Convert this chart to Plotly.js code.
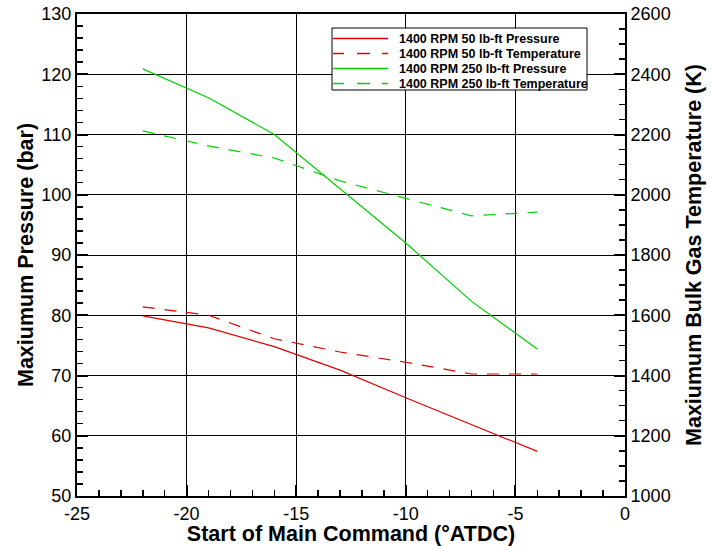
<!DOCTYPE html>
<html>
<head>
<meta charset="utf-8">
<script src="https://cdn.plot.ly/plotly-3.0.1.min.js"></script>
<style>html,body{margin:0;padding:0;background:#fff;}#chart{width:712px;height:546px;}</style>
</head>
<body>
<div id="chart"></div>
<script>
// Start of main command (deg ATDC)
const soi = [-22, -19, -16, -13, -10, -7, -4];
// 1400 RPM 50 lb-ft
const pressure50 = [79.9, 77.9, 74.8, 70.9, 66.3, 61.8, 57.4];
const temperature50 = [1628, 1600, 1522, 1478, 1444, 1405, 1405];
// 1400 RPM 250 lb-ft
const pressure250 = [120.9, 116.1, 110.0, 101.0, 92.0, 82.3, 74.4];
const temperature250 = [2212, 2162, 2122, 2046, 1988, 1930, 1942];

const seriesNames = [
  "1400 RPM 50 lb-ft Pressure",
  "1400 RPM 50 lb-ft Temperature",
  "1400 RPM 250 lb-ft Pressure",
  "1400 RPM 250 lb-ft Temperature"
];

// tick labels (plain hyphen minus as in the original)
const xTickVals = [-25, -20, -15, -10, -5, 0];
const xTickText = ["-25", "-20", "-15", "-10", "-5", "0"];

const RED = "#e00000", GREEN = "#00d000";
const FONT = "Liberation Sans, Arial, sans-serif";
const DASH = "12px,10px";

const styles = [
  {color: RED, dashed: false, axis: "y"},
  {color: RED, dashed: true, axis: "y2"},
  {color: GREEN, dashed: false, axis: "y"},
  {color: GREEN, dashed: true, axis: "y2"}
];
const seriesY = [pressure50, temperature50, pressure250, temperature250];

const traces = seriesY.map((ys, i) => ({
  x: soi, y: ys, name: seriesNames[i], mode: "lines", yaxis: styles[i].axis,
  showlegend: false, hoverinfo: "skip",
  line: {color: styles[i].color, width: 1.2, dash: styles[i].dashed ? DASH : "solid"}
}));

// plot-area geometry used to place the hand-built legend
const W = 712, H = 546, ML = 77, MR = 87, MT = 14, MB = 50;
const PW = W - ML - MR, PH = H - MT - MB;
const px = v => (v - ML) / PW;
const py = v => (H - MB - v) / PH;

const legBox = {x0: 332, x1: 587, y0: 28, y1: 90};
const legRowY = [38.5, 53.5, 68.5, 83.5];
const legSolid = [[333, 388]];
const legDashed = [[333, 344], [357, 370], [382, 388]];
const shapes = [{
  type: "rect", xref: "paper", yref: "paper", layer: "above",
  x0: px(legBox.x0), x1: px(legBox.x1), y0: py(legBox.y1), y1: py(legBox.y0),
  fillcolor: "#fff", line: {color: "#000", width: 1}
}];
const annotations = [];
seriesNames.forEach((nm, i) => {
  (styles[i].dashed ? legDashed : legSolid).forEach(seg => {
    shapes.push({
      type: "line", xref: "paper", yref: "paper", layer: "above",
      x0: px(seg[0]), x1: px(seg[1]), y0: py(legRowY[i]), y1: py(legRowY[i]),
      line: {color: styles[i].color, width: 1.5}
    });
  });
  annotations.push({
    xref: "paper", yref: "paper", x: px(397), y: py(legRowY[i]),
    xanchor: "left", yanchor: "middle", showarrow: false, text: nm,
    font: {family: FONT, size: 12.5, color: "#000", weight: "bold"}
  });
});

const axisCommon = {
  showline: true, linecolor: "#000", linewidth: 2,
  ticks: "inside", ticklen: 11, tickwidth: 2, tickcolor: "#000",
  showgrid: true, gridcolor: "#000", gridwidth: 1,
  zeroline: false,
  tickfont: {family: FONT, size: 18, color: "#000"}
};
const titleFont = {family: FONT, size: 21.5, color: "#000", weight: "bold"};
const MINOR = {ticks: "inside", ticklen: 6, tickwidth: 1.5, tickcolor: "#000", showgrid: false};

const layout = {
  width: W, height: H,
  margin: {l: ML, r: MR, t: MT, b: MB},
  paper_bgcolor: "#fff", plot_bgcolor: "#fff",
  font: {family: FONT, color: "#000"},
  showlegend: false,
  shapes: shapes,
  annotations: annotations,
  xaxis: Object.assign({}, axisCommon, {
    range: [-25, 0], tickmode: "array", tickvals: xTickVals, ticktext: xTickText, mirror: true,
    minor: Object.assign({dtick: 1, tick0: 0}, MINOR),
    title: {text: "Start of Main Command (°ATDC)", standoff: 0, font: titleFont}
  }),
  yaxis: Object.assign({}, axisCommon, {
    range: [50, 130], dtick: 10, tick0: 50,
    minor: Object.assign({dtick: 2, tick0: 0}, MINOR),
    title: {text: "Maxiumum Pressure (bar)", standoff: 2, font: titleFont}
  }),
  yaxis2: Object.assign({}, axisCommon, {
    overlaying: "y", side: "right", anchor: "x",
    range: [1000, 2600], dtick: 200, tick0: 1000,
    showgrid: false,
    minor: Object.assign({dtick: 50, tick0: 0}, MINOR),
    title: {text: "Maxiumum Bulk Gas Temperature (K)", standoff: 16, font: titleFont}
  })
};

Plotly.newPlot("chart", traces, layout, {displayModeBar: false, staticPlot: true});
</script>
</body>
</html>
